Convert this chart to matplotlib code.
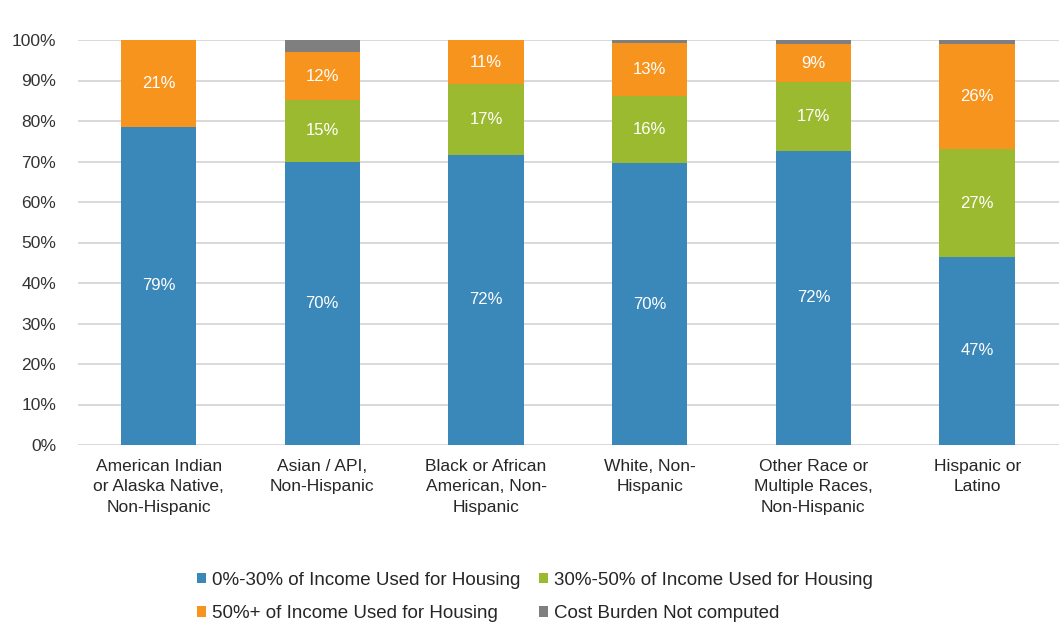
import numpy as np
import matplotlib.pyplot as plt

plt.rcParams['font.family'] = ['Liberation Sans', 'DejaVu Sans']

categories = ["American Indian\nor Alaska Native,\nNon-Hispanic",
              "Asian / API,\nNon-Hispanic",
              "Black or African\nAmerican, Non-\nHispanic",
              "White, Non-\nHispanic",
              "Other Race or\nMultiple Races,\nNon-Hispanic",
              "Hispanic or\nLatino"]
low = [78.6, 70.0, 71.7, 69.6, 72.6, 46.5]
mid = [0.0, 15.2, 17.4, 16.5, 17.0, 26.5]
high = [21.4, 11.8, 10.9, 13.2, 9.4, 26.0]
nc = [0.0, 3.0, 0.0, 0.7, 1.0, 1.0]
low_lbl = ["79%", "70%", "72%", "70%", "72%", "47%"]
mid_lbl = ["", "15%", "17%", "16%", "17%", "27%"]
high_lbl = ["21%", "12%", "11%", "13%", "9%", "26%"]

series = [
    ("0%-30% of Income Used for Housing", low, low_lbl, "#3a87b9"),
    ("30%-50% of Income Used for Housing", mid, mid_lbl, "#9cba30"),
    ("50%+ of Income Used for Housing", high, high_lbl, "#f7941d"),
    ("Cost Burden Not computed", nc, None, "#7f7f7f"),
]

fig = plt.figure(figsize=(10.59, 6.38), dpi=100)
ax = fig.add_axes([0.074, 1 - 445 / 638, 0.926, 405 / 638])

x = np.arange(len(categories))
bottom = np.zeros(len(categories))
handles = []
for name, vals, lbls, col in series:
    vals = np.array(vals)
    b = ax.bar(x, vals, 0.46, bottom=bottom, color=col, label=name, zorder=3)
    handles.append(b)
    if lbls:
        for xi, v, bt, t in zip(x, vals, bottom, lbls):
            if t:
                ax.text(xi, bt + v / 2, t, ha='center', va='center',
                        color='white', fontsize=12, zorder=4)
    bottom += vals

ax.set_xlim(-0.49, 5.5)
ax.set_ylim(0, 100)
ax.set_yticks(np.arange(0, 101, 10))
ax.set_yticklabels([f"{v}%" for v in range(0, 101, 10)], fontsize=12.5, color='#333333')
ax.set_xticks(x)
ax.set_xticklabels(categories, fontsize=12.5, color='#262626', linespacing=1.45)
ax.tick_params(axis='x', length=0, pad=10)
ax.tick_params(axis='y', length=0, pad=16)
ax.yaxis.grid(True, color='#d9d9d9', lw=1.4, zorder=0)
for s in ax.spines.values():
    s.set_visible(False)

# legend fills column-first, so reorder to get the row layout of the original
order = [0, 2, 1, 3]
fig.legend(handles=[handles[i] for i in order], loc='center',
           bbox_to_anchor=(0.505, 1 - 597 / 638),
           ncol=2, frameon=False, fontsize=13.5, handlelength=0.5, handleheight=0.5,
           handletextpad=0.3, columnspacing=1.0, labelspacing=0.9,
           labelcolor='#262626')

fig.savefig("out.png", dpi=100)
